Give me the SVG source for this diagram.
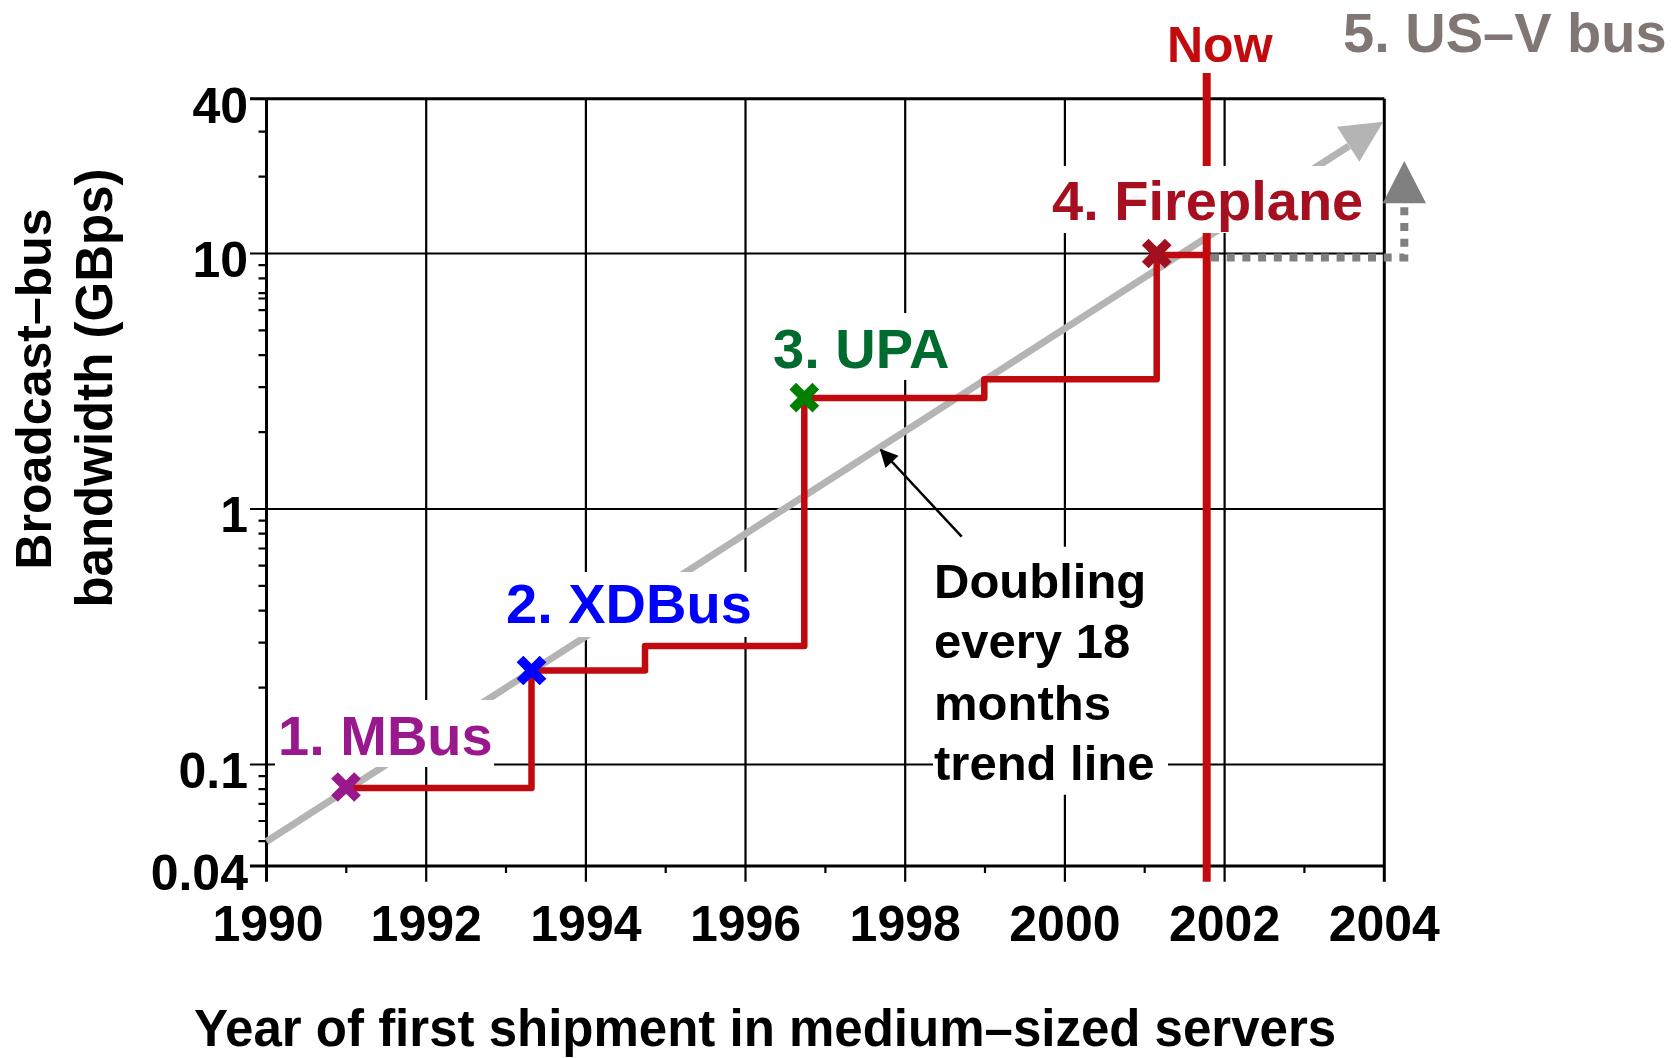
<svg xmlns="http://www.w3.org/2000/svg" width="1678" height="1058" viewBox="0 0 1678 1058">
<defs>
<style>
text{font-family:"Liberation Sans",Arial,Helvetica,sans-serif;font-weight:bold}
.frame{stroke:#000;stroke-width:3;fill:none}
.grid{stroke:#000;stroke-width:2.2;fill:none}
.tick{stroke:#000;stroke-width:2.2}
.lbl{font-size:49px;fill:#000}
.ylbl{font-size:50px;fill:#000;text-anchor:end}
.xlbl{font-size:50px;fill:#000;text-anchor:middle}
.bus{font-size:56px}
.box{fill:#fff;stroke:none}
.mk{stroke-width:9.5;fill:none}
</style>
<marker id="blk" viewBox="0 0 10 10" refX="9" refY="5" markerWidth="26" markerHeight="18" markerUnits="userSpaceOnUse" orient="auto"><path d="M0,0 L10,5 L0,10 z" fill="#000"/></marker>
</defs>
<rect width="1678" height="1058" fill="#fff"/>

<g id="axes">
<path class="grid" d="M426.2,98.7V881.7 M585.9,98.7V881.7 M745.5,98.7V881.7 M905.2,98.7V881.7 M1064.9,98.7V881.7 M1224.6,98.7V881.7"/>
<path class="grid" d="M250,253.5H1384.3 M250,509H1384.3 M250,764.5H1384.3"/>
<path class="frame" d="M266.5,98.7V881.7 M1384.3,98.7V881.7 M250,98.7H1384.3 M250,866H1384.3"/>
<path class="tick" d="M346.3,866v7 M506,866v7 M665.7,866v7 M825.4,866v7 M985,866v7 M1144.7,866v7 M1304.4,866v7"/>
<path class="tick" d="M258.5,131.6h8 M258.5,176.6h8 M258.5,298.5h8 M258.5,293.1h8 M258.5,278.3h8 M258.5,265.2h8 M258.5,432.1h8 M258.5,387.1h8 M258.5,355.2h8 M258.5,330.4h8 M258.5,310.1h8 M258.5,687.6h8 M258.5,642.6h8 M258.5,610.7h8 M258.5,585.9h8 M258.5,565.6h8 M258.5,548.5h8 M258.5,533.7h8 M258.5,520.7h8 M258.5,841.2h8 M258.5,821h8 M258.5,803.9h8 M258.5,789.1h8 M258.5,776.2h8"/>
<text class="ylbl" x="248" y="123">40</text>
<text class="ylbl" x="248" y="277">10</text>
<text class="ylbl" x="248" y="532">1</text>
<text class="ylbl" x="248" y="788">0.1</text>
<text class="ylbl" x="248" y="890">0.04</text>
<text class="xlbl" x="268" y="941">1990</text>
<text class="xlbl" x="426.2" y="941">1992</text>
<text class="xlbl" x="585.9" y="941">1994</text>
<text class="xlbl" x="745.5" y="941">1996</text>
<text class="xlbl" x="905.2" y="941">1998</text>
<text class="xlbl" x="1064.9" y="941">2000</text>
<text class="xlbl" x="1224.6" y="941">2002</text>
<text class="xlbl" x="1384.3" y="941">2004</text>
<text class="lbl" x="765" y="1046" text-anchor="middle" style="font-size:51px">Year of first shipment in medium–sized servers</text>
<text class="lbl" transform="translate(51,389) rotate(-90)" text-anchor="middle" style="font-size:50px">Broadcast–bus</text>
<text class="lbl" transform="translate(112,388) rotate(-90)" text-anchor="middle" style="font-size:51px">bandwidth (GBps)</text>
</g>

<g id="connectors">
<g id="trend-line">
<line x1="266.5" y1="841.5" x2="1349" y2="146" stroke="#b4b4b4" stroke-width="7"/>
<polygon points="1383.3,121.7 1337,126.7 1359.3,161.7" fill="#b4b4b4"/>
</g>
<g id="now-line">
<line x1="1206.7" y1="73" x2="1206.7" y2="881.7" stroke="#c30b0e" stroke-width="8"/>
</g>
<g id="usv-projection">
<path d="M1211,257.5 H1404.3 V203" fill="none" stroke="#808080" stroke-width="8" stroke-dasharray="8,7.7"/>
<polygon points="1404.3,161 1382.7,203.3 1426,203.3" fill="#808080"/>
</g>
<g id="label-boxes">
<rect class="box" x="275" y="700" width="219" height="67"/>
<rect class="box" x="503" y="572" width="253" height="65"/>
<rect class="box" x="770" y="313" width="185" height="67"/>
<rect class="box" x="1048" y="166" width="320" height="67"/>
<rect class="box" x="933" y="546.7" width="235" height="248"/>
</g>
<g id="bandwidth-steps">
<path d="M346,788 H531.5 V670.5 H645 V646 H804.3 V398 H984.3 V379.3 H1156.7 V255 H1206.7" fill="none" stroke="#c00a10" stroke-width="6.5" stroke-linejoin="round"/>
</g>
<g id="trend-pointer">
<line x1="961.7" y1="536.7" x2="881" y2="450" stroke="#000" stroke-width="2.5" marker-end="url(#blk)"/>
</g>
</g>

<g id="mbus">
<path class="mk" stroke="#99198c" d="M334.5,775.5 L357.5,798.5 M334.5,798.5 L357.5,775.5"/>
<text class="bus" x="278" y="755" fill="#99198c">1. MBus</text>
</g>
<g id="xdbus">
<path class="mk" stroke="#0000ff" d="M520,659 L543,682 M520,682 L543,659"/>
<text class="bus" x="506" y="623.3" fill="#0000ff">2. XDBus</text>
</g>
<g id="upa">
<path class="mk" stroke="#007f00" d="M792.8,386.2 L815.8,409.2 M792.8,409.2 L815.8,386.2"/>
<text class="bus" x="773" y="368" fill="#006b2e">3. UPA</text>
</g>
<g id="fireplane">
<path class="mk" stroke="#a0101e" d="M1145.2,242 L1168.2,265 M1145.2,265 L1168.2,242"/>
<text class="bus" x="1052" y="220" fill="#a50f1f">4. Fireplane</text>
</g>
<g id="usv">
<text class="bus" x="1343" y="51.7" fill="#807775">5. US–V bus</text>
</g>
<g id="now">
<text x="1167" y="61.7" style="font-size:50px" fill="#c30b0e">Now</text>
</g>
<g id="trend-note">
<text class="lbl" x="934" y="597.7">Doubling</text>
<text class="lbl" x="934" y="658.3">every 18</text>
<text class="lbl" x="934" y="720">months</text>
<text class="lbl" x="934" y="780">trend line</text>
</g>
</svg>
